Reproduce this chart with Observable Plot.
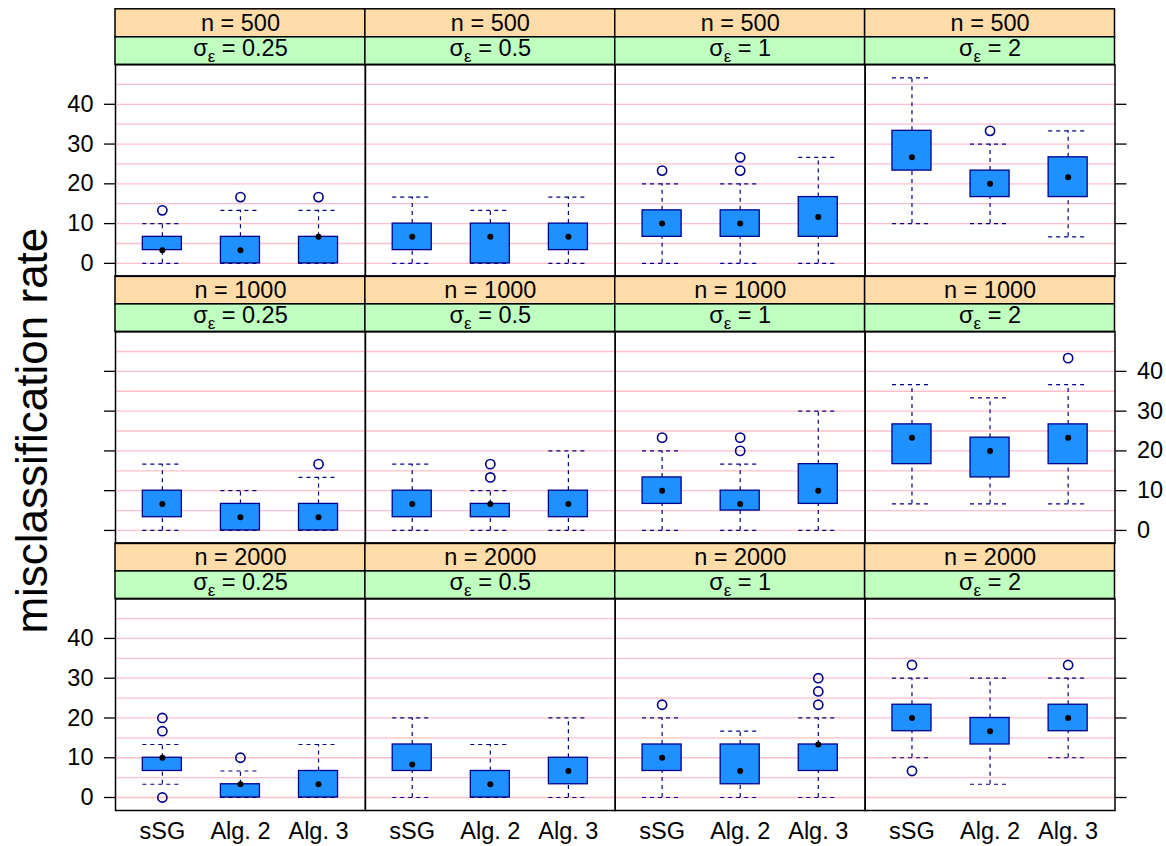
<!DOCTYPE html>
<html>
<head>
<meta charset="utf-8">
<script src="https://cdn.jsdelivr.net/npm/d3@7"></script>
<script src="https://cdn.jsdelivr.net/npm/@observablehq/plot@0.6"></script>
<style>
  html, body { margin: 0; padding: 0; background: #fff; }
  svg { display: block; }
</style>
</head>
<body>
<div id="chart"></div>
<script>
// ---------- data ----------
const nLevels = [500, 1000, 2000];
const sigmaLevels = ["0.25", "0.5", "1", "2"];
const methods = ["sSG", "Alg. 2", "Alg. 3"];
const yTicks = [0, 10, 20, 30, 40];
const gridLines = [0, 5, 10, 15, 20, 25, 30, 35, 40, 45];

// order: n (500, 1000, 2000) x sigma (0.25, 0.5, 1, 2) x method (sSG, Alg. 2, Alg. 3)
const whiskerLow = [
  0, 0, 0,   0, 0, 0,   0, 0, 0,   10, 10, 6.67,
  0, 0, 0,   0, 0, 0,   0, 0, 0,   6.67, 6.67, 6.67,
  3.33, 0, 0,   0, 0, 0,   0, 0, 0,   10, 3.33, 10
];
const q1 = [
  3.33, 0, 0,   3.33, 0, 3.33,   6.67, 6.67, 6.67,   23.33, 16.67, 16.67,
  3.33, 0, 0,   3.33, 3.33, 3.33,   6.67, 5, 6.67,   16.67, 13.33, 16.67,
  6.67, 0, 0,   6.67, 0, 3.33,   6.67, 3.33, 6.67,   16.67, 13.33, 16.67
];
const median = [
  3.33, 3.33, 6.67,   6.67, 6.67, 6.67,   10, 10, 11.67,   26.67, 20, 21.67,
  6.67, 3.33, 3.33,   6.67, 6.67, 6.67,   10, 6.67, 10,   23.33, 20, 23.33,
  10, 3.33, 3.33,   8.33, 3.33, 6.67,   10, 6.67, 13.33,   20, 16.67, 20
];
const q3 = [
  6.67, 6.67, 6.67,   10, 10, 10,   13.33, 13.33, 16.67,   33.33, 23.33, 26.67,
  10, 6.67, 6.67,   10, 6.67, 10,   13.33, 10, 16.67,   26.67, 23.33, 26.67,
  10, 3.33, 6.67,   13.33, 6.67, 10,   13.33, 13.33, 13.33,   23.33, 20, 23.33
];
const whiskerHigh = [
  10, 13.33, 13.33,   16.67, 13.33, 16.67,   20, 20, 26.67,   46.67, 30, 33.33,
  16.67, 10, 13.33,   16.67, 10, 20,   20, 16.67, 30,   36.67, 33.33, 36.67,
  13.33, 6.67, 13.33,   20, 13.33, 20,   20, 16.67, 20,   30, 30, 30
];
// outliers: [n, sigma, method, value]
const outliers = [
  [500, "0.25", "sSG", 13.33], [500, "0.25", "Alg. 2", 16.67], [500, "0.25", "Alg. 3", 16.67],
  [500, "1", "sSG", 23.33], [500, "1", "Alg. 2", 23.33], [500, "1", "Alg. 2", 26.67],
  [500, "2", "Alg. 2", 33.33],
  [1000, "0.25", "Alg. 3", 16.67],
  [1000, "0.5", "Alg. 2", 13.33], [1000, "0.5", "Alg. 2", 16.67],
  [1000, "1", "sSG", 23.33], [1000, "1", "Alg. 2", 20], [1000, "1", "Alg. 2", 23.33],
  [1000, "2", "Alg. 3", 43.33],
  [2000, "0.25", "sSG", 0], [2000, "0.25", "sSG", 16.67], [2000, "0.25", "sSG", 20], [2000, "0.25", "Alg. 2", 10],
  [2000, "1", "sSG", 23.33], [2000, "1", "Alg. 3", 23.33], [2000, "1", "Alg. 3", 26.67], [2000, "1", "Alg. 3", 30],
  [2000, "2", "sSG", 6.67], [2000, "2", "sSG", 33.33], [2000, "2", "Alg. 3", 33.33]
];

// ---------- build tables ----------
const boxes = [];
let i = 0;
for (const n of nLevels) for (const sigma of sigmaLevels) for (const method of methods) {
  boxes.push({n, sigma, method, lo: whiskerLow[i], q1: q1[i], med: median[i], q3: q3[i], hi: whiskerHigh[i]});
  i++;
}
const outlierRows = outliers.map(([n, sigma, method, value]) => ({n, sigma, method, value}));
const panels = [];
for (const n of nLevels) for (const sigma of sigmaLevels) panels.push({n, sigma});
const leftLabelRows = [nLevels[0], nLevels[2]];
const rightLabelRows = [nLevels[1]];
const leftLabels = leftLabelRows.flatMap(n => yTicks.map(v => ({n, v})));
const rightLabels = rightLabelRows.flatMap(n => yTicks.map(v => ({n, v})));

// ---------- layout ----------
const W = 1166, H = 846;
const mL = 115, mR = 51.5, mT = 64.3, mB = 36;
const stripA = 28, stripB = 27.5;
const gap = stripA + stripB;
const panelH = (H - mT - mB - 2 * gap) / 3;
const FONT = "'Liberation Sans', Arial, Helvetica, sans-serif";
const fs = 23.5;
const navy = "#00008B";
const dash = "4,4";

const svg = Plot.plot({
  width: W,
  height: H,
  marginLeft: mL,
  marginRight: mR,
  marginTop: mT,
  marginBottom: mB,
  style: {fontFamily: FONT, color: "black", background: "white"},
  fx: {domain: sigmaLevels, paddingInner: 0, paddingOuter: 0, round: false, axis: null},
  fy: {domain: nLevels, paddingInner: gap / (panelH + gap), paddingOuter: 0, round: false, axis: null},
  x: {type: "band", domain: methods, paddingInner: 0.5, paddingOuter: 0.35, round: false, axis: null},
  y: {domain: [-3.267, 49.933], axis: null},
  marks: [
    Plot.ruleY(gridLines, {stroke: "#FFC0CB", strokeWidth: 1.3}),
    // strips
    Plot.rect(panels, {fx: "sigma", fy: "n", fill: "#FFDCA8", stroke: "black", strokeWidth: 1.5,
      insetTop: -gap, insetBottom: panelH + stripB}),
    Plot.rect(panels, {fx: "sigma", fy: "n", fill: "#BFFFC0", stroke: "black", strokeWidth: 1.5,
      insetTop: -stripB, insetBottom: panelH}),
    Plot.text(panels, {fx: "sigma", fy: "n", text: d => `n = ${d.n}`, frameAnchor: "top",
      lineAnchor: "middle", textAnchor: "middle",
      dy: -(stripB + stripA / 2), fontSize: fs, fill: "black"}),
    Plot.text(panels, {fx: "sigma", fy: "n", text: d => `σε = ${d.sigma}`, frameAnchor: "top",
      lineAnchor: "middle", textAnchor: "middle",
      dy: -stripB / 2 - 3, fontSize: fs, fill: "black"}),
    Plot.frame({stroke: "black", strokeWidth: 1.5}),
    // whiskers
    Plot.ruleX(boxes, {fx: "sigma", fy: "n", x: "method", y1: "lo", y2: "q1", stroke: navy, strokeWidth: 1.2, strokeDasharray: dash}),
    Plot.ruleX(boxes, {fx: "sigma", fy: "n", x: "method", y1: "q3", y2: "hi", stroke: navy, strokeWidth: 1.2, strokeDasharray: dash}),
    Plot.tickY(boxes, {fx: "sigma", fy: "n", x: "method", y: "lo", stroke: navy, strokeWidth: 1.2, strokeDasharray: dash}),
    Plot.tickY(boxes, {fx: "sigma", fy: "n", x: "method", y: "hi", stroke: navy, strokeWidth: 1.2, strokeDasharray: dash}),
    // boxes
    Plot.barY(boxes, {fx: "sigma", fy: "n", x: "method", y1: "q1", y2: "q3", fill: "#1E90FF", stroke: navy, strokeWidth: 1.3}),
    Plot.dot(boxes, {fx: "sigma", fy: "n", x: "method", y: "med", r: 3, fill: "black", stroke: "none"}),
    Plot.dot(outlierRows, {fx: "sigma", fy: "n", x: "method", y: "value", r: 4.6, fill: "none", stroke: navy, strokeWidth: 1.6}),
    // axes
    Plot.axisY(yTicks, {anchor: "left", tickSize: 11, fill: "none", label: null, strokeWidth: 1.3}),
    Plot.axisY(yTicks, {anchor: "right", tickSize: 11, fill: "none", label: null, strokeWidth: 1.3}),
    Plot.text(leftLabels, {fx: () => sigmaLevels[0], fy: "n", y: "v", text: d => String(d.v),
      frameAnchor: "left", dx: -22, textAnchor: "end", fontSize: fs, fill: "black"}),
    Plot.text(rightLabels, {fx: () => sigmaLevels[sigmaLevels.length - 1], fy: "n", y: "v", text: d => String(d.v),
      frameAnchor: "right", dx: 22, textAnchor: "start", fontSize: fs, fill: "black"}),
    Plot.axisX({anchor: "bottom", tickSize: 0, tickPadding: 12, fontSize: fs, label: null, fill: "black"}),
    Plot.text(["misclassification rate"], {facet: "super", text: d => d, frameAnchor: "left", rotate: -90,
      textAnchor: "middle", lineAnchor: "middle",
      dx: -83, dy: -7, fontSize: 44, fill: "black"})
  ]
});

// subscript epsilon in the sigma strips
d3.select(svg).selectAll("text").each(function () {
  const t = this.textContent;
  if (!t.startsWith("σε")) return;
  const rest = t.slice(2);
  const sel = d3.select(this);
  sel.text(null);
  sel.append("tspan").text("σ");
  sel.append("tspan").attr("dy", 6).attr("font-size", 17).text("ε");
  sel.append("tspan").attr("dy", -6).text(rest);
});

document.getElementById("chart").appendChild(svg);
</script>
</body>
</html>
